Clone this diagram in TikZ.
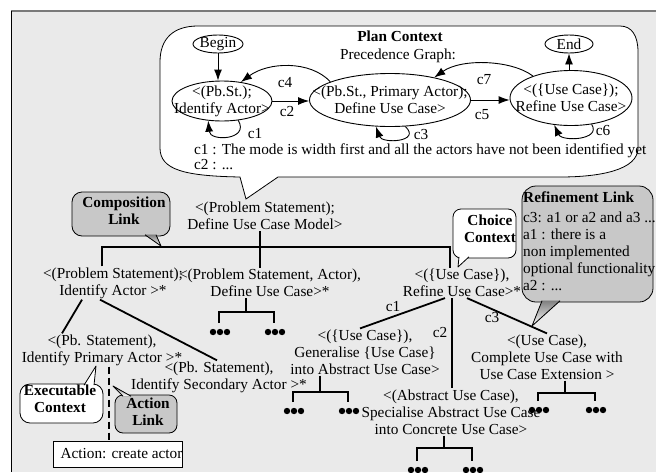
\documentclass[tikz,border=0pt]{standalone}
\usepackage{fontspec}
\setmainfont{Liberation Serif}
\usetikzlibrary{shapes.geometric,arrows.meta}
\definecolor{panel}{HTML}{EAEAEA}
\definecolor{shade}{HTML}{C8C8C8}
\definecolor{rim}{HTML}{7A7A7A}
\newcommand\diagfont{\fontsize{15.3}{17}\selectfont}
% tail of a speech bubble: filled wedge whose two sides are stroked
\newcommand\bubbletail[4]{%
  \fill[#1] #2 -- #3 -- #4 -- cycle;
  \draw[line width=0.8pt, line join=round] #2 -- #3 -- #4;}
\tikzset{
  txt/.style={font=\diagfont, align=center, inner sep=1pt},
  btxt/.style={font=\diagfont\bfseries, align=center, inner sep=1pt},
  ell/.style={draw, ellipse, inner sep=0pt, line width=0.9pt},
  flow/.style={line width=0.9pt, -{Latex[length=11pt,width=8pt]}},
  tree/.style={line width=1.8pt},
  dashline/.style={line width=1.8pt, dash pattern=on 7pt off 4pt},
  bubble/.style={draw, line width=0.8pt, inner sep=0pt},
  threedots/.pic={
    \fill (-7,0) circle[radius=3.2] (0,0) circle[radius=3.2] (7,0) circle[radius=3.2];
    \coordinate (-top) at (-1,-9);
  },
}
\begin{document}
\begin{tikzpicture}[x=1pt,y=-1pt]
\useasboundingbox (0,0) rectangle (656,472);
% panel
\fill[panel] (11,11) rectangle (656,472);
\draw[rim, line width=2pt] (11,11) -- (656,11);
\draw[line width=0.8pt] (11,11) -- (11,472);

% ---------- plan context bubble ----------
\draw[fill=white, line width=0.8pt]
  (198,26) -- (620,26) .. controls (632,26) and (638,36) .. (638,52)
  -- (638,148) .. controls (638,170) and (600,177) .. (560,177)
  -- (278,177) -- (246,199) -- (240,177)
  .. controls (185,176) and (160,170) .. (160,148)
  -- (160,62) .. controls (160,38) and (174,26) .. (198,26) -- cycle;

\node[btxt] (pctitle) at (400,36) {Plan Context};
\node[txt] (pcsub) at (398,56) {Precedence Graph:};

\node[ell, minimum width=50, minimum height=18] (begin) at (218,44) {};
\node[txt] (begint) at (begin) {Begin};
\node[ell, minimum width=100, minimum height=40] (n1) at (222,101) {};
\node[txt] (n1t) at (n1) {<(Pb.St.);\\Identify Actor>};
\node[ell, minimum width=161, minimum height=53] (n2) at (390,100) {};
\node[txt] (n2t) at (n2) {<(Pb.St., Primary Actor);\\Define Use Case>};
\node[ell, minimum width=122, minimum height=55] (n3) at (571,98) {};
\node[txt] (n3t) at (n3) {<(\{Use Case\});\\Refine Use Case>};
\node[ell, minimum width=48, minimum height=18] (endn) at (569,44) {};
\node[txt] (endt) at (endn) {End};

\draw[flow] (begin.south) -- (begin.south |- n1.north);
\draw[flow] (n1.east) -- (n1.east -| n2.west);
\draw[flow] (n2.east) -- (n2.east -| n3.west);
\draw[flow] (endn.south |- n3.north) -- (endn.south);
\draw[flow] (n1.-50) .. controls (250,140) and (210,142) .. (n1.-125);
\draw[flow] (n2.-60) .. controls (422,142) and (382,144) .. (n2.-118);
\draw[flow] (n3.-52) .. controls (602,140) and (562,142) .. (n3.-122);
\draw[flow] (n2.163) .. controls (310,60) and (268,62) .. (n1.45);
\draw[flow] (n3.150) .. controls (512,60) and (462,58) .. (n2.27);

\node[txt] (lc1) at (255,134) {c1};
\node[txt] (lc2) at (287,112) {c2};
\node[txt] (lc3) at (421,135) {c3};
\node[txt] (lc4) at (285,83) {c4};
\node[txt] (lc5) at (482,115) {c5};
\node[txt] (lc6) at (603,131) {c6};
\node[txt] (lc7) at (484,80) {c7};

\node[txt, anchor=base west] (note1) at (193,154.5)
  {c1 : The mode is width first and all the actors have not been identified yet};
\node[txt, anchor=base west] (note2) at (193,169) {c2 : ...};

% ---------- decomposition tree ----------
\node[txt] (root) at (265,216) {<(Problem Statement);\\Define Use Case Model>};
\node[txt] (idact) at (113,283) {<(Problem Statement);\\Identify Actor >*};
\node[txt] (defuc) at (270,283) {<(Problem Statement, Actor),\\Define Use Case>*};
\node[txt] (refuc) at (462,283) {<(\{Use Case\}),\\Refine Use Case>*};
\node[txt] (prim) at (102,350) {<(Pb. Statement),\\Identify Primary Actor >*};
\node[txt] (secd) at (219,377) {<(Pb. Statement),\\Identify Secondary Actor >*};
\node[txt] (gen) at (365,352) {<(\{Use Case\}),\\Generalise \{Use Case\}\\into Abstract Use Case>};
\node[txt] (spec) at (451,412) {<(Abstract Use Case),\\Specialise Abstract Use Case\\into Concrete Use Case>};
\node[txt] (comp) at (547,357) {<(Use Case),\\Complete Use Case with\\Use Case Extension >};

\coordinate (lbar) at (102,247);
\coordinate (rbar) at (260,247);
\coordinate (rgt) at (450,247);
\draw[tree] (lbar |- idact.north) -- (lbar) -- (rgt) -- (rgt |- refuc.north);
\draw[tree] (rbar |- root.south) -- (rbar |- defuc.north);

\draw[tree] ([xshift=-31pt]idact.south) -- ([xshift=-40pt]prim.north);
\draw[tree] ([xshift=-13pt]idact.south) -- ([xshift=-2pt]secd.north);

\draw[tree] ([xshift=-17pt]refuc.south) -- ([xshift=-5pt]gen.north);
\draw[tree] ([xshift=-10pt]refuc.south) -- ([xshift=-10pt]refuc.south |- spec.north);
\draw[tree] ([xshift=5pt]refuc.south) -- (comp.north);
\node[txt] (lr1) at (393,307) {c1};
\node[txt] (lr2) at (440,333) {c2};
\node[txt] (lr3) at (492,318) {c3};

% leaves
\pic (dA) at (220,332) {threedots};
\pic (dB) at (275,332) {threedots};
\coordinate (bA) at (246,312);
\draw[tree] (bA |- defuc.south) -- (bA);
\draw[tree] (dA-top) |- (bA) -| (dB-top);

\pic (dC) at (294,411) {threedots};
\pic (dD) at (349,411) {threedots};
\coordinate (bC) at (320,392);
\draw[tree] (bC |- gen.south) -- (bC);
\draw[tree] (dC-top) |- (bC) -| (dD-top);

\pic (dE) at (418,470) {threedots};
\pic (dF) at (473,470) {threedots};
\coordinate (bE) at (444,448);
\draw[tree] (bE |- spec.south) -- (bE);
\draw[tree] (dE-top) |- (bE) -| (dF-top);

\pic (dG) at (539,410) {threedots};
\pic (dH) at (596,410) {threedots};
\coordinate (bG) at (565,393);
\draw[tree] (bG |- comp.south) -- (bG);
\draw[tree] (dG-top) |- (bG) -| (dH-top);

% ---------- callouts ----------
\node[bubble, fill=shade, rounded corners=10, minimum width=98, minimum height=44] (compL) at (121,214) {};
\bubbletail{shade}{(145,234.8)}{(161,246)}{(156,234.8)}
\node[btxt] (compT) at (124,211) {Composition\\Link};

\node[bubble, fill=white, rounded corners=8, minimum width=63, minimum height=49] (choiceL) at (484.5,233.5) {};
\bubbletail{white}{(459,256.8)}{(458,267)}{(469,256.8)}
\node[btxt] (choiceT) at (490,229) {Choice\\Context};

\node[bubble, fill=shade, rounded corners=14, minimum width=131, minimum height=116] (refL) at (587.5,244) {};
\bubbletail{shade}{(542,300.8)}{(532,326)}{(560,300.8)}
\node[txt, align=left, anchor=north west] (refT) at (522,191)
  {\textbf{Refinement Link}\\[3pt]c3: a1 or a2 and a3 ...\\a1 : there is a\\non implemented\\optional functionality\\a2 : ...};

\node[bubble, fill=white, rounded corners=10, minimum width=83, minimum height=39] (execL) at (61.5,403.5) {};
\bubbletail{white}{(84,385.2)}{(96,366)}{(94,385.2)}
\node[btxt] (execT) at (60,399) {Executable\\Context};

\node[bubble, fill=shade, rounded corners=8, minimum width=62, minimum height=38] (actL) at (146,414) {};
\bubbletail{shade}{(123,396.2)}{(113,386)}{(131,396.2)}
\node[btxt] (actT) at (148,412) {Action\\Link};

\node[draw, fill=white, line width=0.8pt, minimum width=128, minimum height=26, inner sep=0pt, font=\diagfont] (act) at (118,454) {\hspace*{7pt}Action: create actor};
\draw[dashline] ([xshift=7pt]prim.south) -- ([xshift=7pt]prim.south |- act.north);
\end{tikzpicture}
\end{document}
